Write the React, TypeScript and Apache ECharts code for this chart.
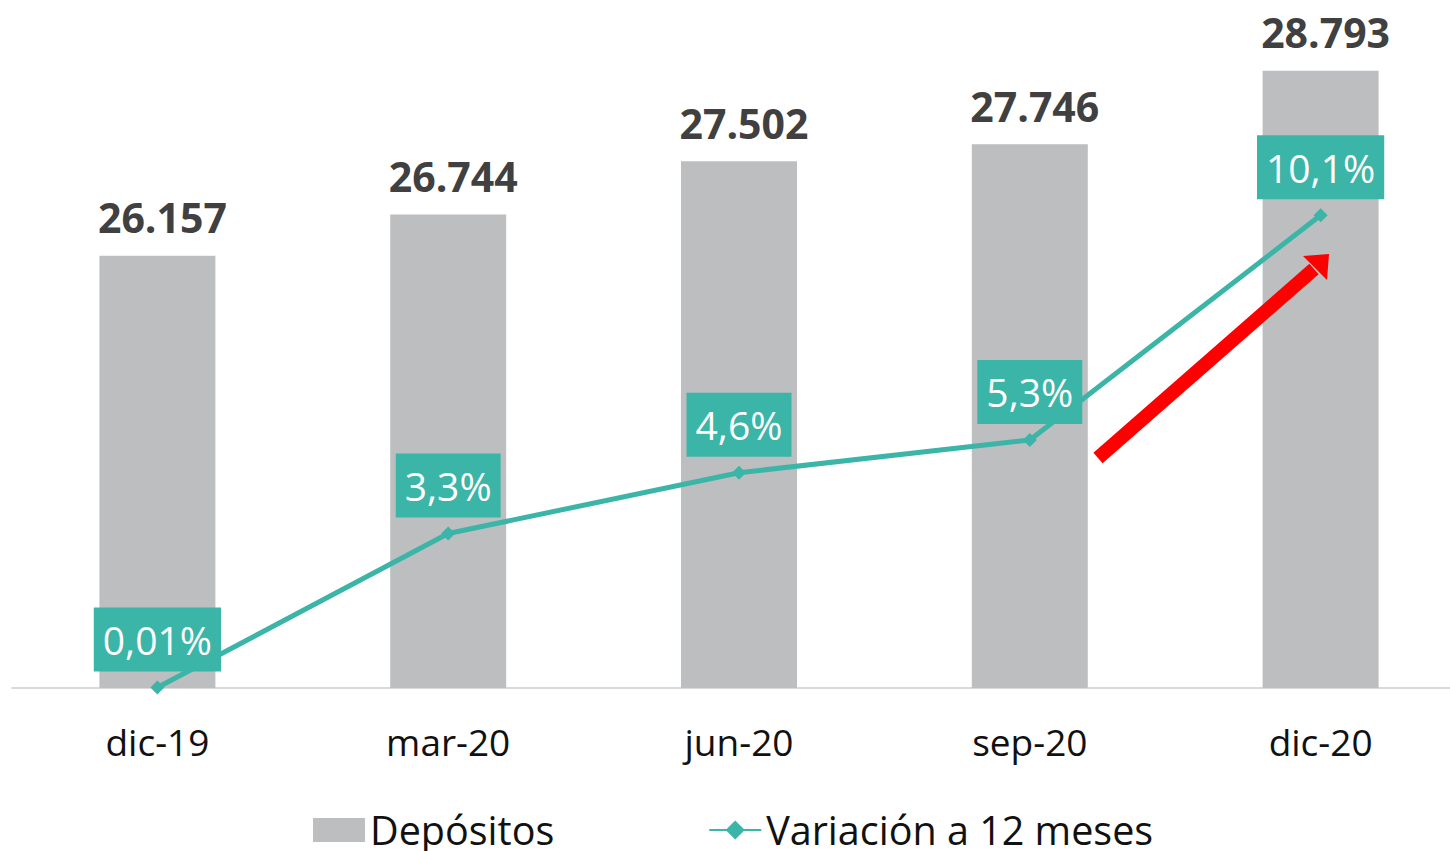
import React, { useEffect, useRef } from "react";
import * as echarts from "echarts";

const categories = ["dic-19", "mar-20", "jun-20", "sep-20", "dic-20"];
const depositos = [26157, 26744, 27502, 27746, 28793];
const variacion = [0.01, 3.3, 4.6, 5.3, 10.1];
const variacionLabels = ["0,01%", "3,3%", "4,6%", "5,3%", "10,1%"];
const seriesNames = ["Depósitos", "Variación a 12 meses"];

const GRAY = "#BDBEC0";
const TEAL = "#3BB5A7";
const FONT = "'Open Sans', sans-serif";
const OY = 14; // inner chart offset (chart extends above the visible page)

function fmtThousands(v: number): string {
  return String(v).replace(/\B(?=(\d{3})+(?!\d))/g, ".");
}

export default function App() {
  const ref = useRef<HTMLDivElement>(null);
  useEffect(() => {
    if (!ref.current) return;
    const chart = echarts.init(ref.current, undefined, { renderer: "svg" });
    chart.setOption({
      animation: false,
      backgroundColor: "#ffffff",
      textStyle: { fontFamily: FONT },
      grid: { left: 12, top: 0, width: 1454, height: 702, containLabel: false },
      legend: {
        left: 313,
        top: 810 + OY,
        padding: 0,
        itemGap: 154,
        itemWidth: 52,
        itemHeight: 24,
        textStyle: { fontFamily: FONT, fontSize: 39.5, color: "#111111", padding: [0, 0, 0, 0] },
        data: [
          { name: seriesNames[0], icon: "rect" },
          { name: seriesNames[1] },
        ],
      },
      xAxis: {
        type: "category",
        data: categories,
        axisLine: { show: true, lineStyle: { color: "#D9D9D9", width: 2 } },
        axisTick: { show: false },
        axisLabel: { fontFamily: FONT, fontSize: 37, color: "#111111", margin: 35 },
      },
      yAxis: [
        { type: "value", min: 20000, max: 30000, show: false, splitLine: { show: false } },
        { type: "value", min: 0, max: 15, show: false, splitLine: { show: false } },
      ],
      series: [
        {
          name: seriesNames[0],
          type: "bar",
          data: depositos,
          barWidth: 116,
          itemStyle: { color: GRAY },
          label: {
            show: true,
            position: "top",
            distance: 18,
            offset: [5, 0],
            fontFamily: FONT,
            fontSize: 41,
            fontWeight: "bold",
            color: "#404040",
            formatter: (p: any) => fmtThousands(p.value),
          },
        },
        {
          name: seriesNames[1],
          type: "line",
          yAxisIndex: 1,
          data: variacion,
          symbol: "diamond",
          symbolSize: 14,
          lineStyle: { color: TEAL, width: 5 },
          itemStyle: { color: TEAL },
          label: {
            show: true,
            position: "top",
            distance: 9,
            fontFamily: FONT,
            fontSize: 39,
            lineHeight: 48,
            color: "#ffffff",
            backgroundColor: TEAL,
            padding: [8, 9, 8, 9],
            formatter: (p: any) => variacionLabels[p.dataIndex],
          },
          z: 5,
        },
      ],
      graphic: [
        {
          type: "line",
          shape: { x1: 1098, y1: 458 + OY, x2: 1314, y2: 269 + OY },
          style: { stroke: "#FF0000", lineWidth: 14 },
          z: 10,
        },
        {
          type: "polygon",
          shape: { points: [[1329, 254 + OY], [1303, 256 + OY], [1327, 280 + OY]] },
          style: { fill: "#FF0000" },
          z: 10,
        },
      ],
    });
    return () => chart.dispose();
  }, []);
  return (
    <div
      style={{
        position: "absolute",
        left: 0,
        top: 0,
        width: 1450,
        height: 851,
        overflow: "hidden",
        background: "#ffffff",
      }}
    >
      <div
        ref={ref}
        style={{ position: "absolute", left: 0, top: -OY, width: 1470, height: 851 + OY }}
      />
    </div>
  );
}
